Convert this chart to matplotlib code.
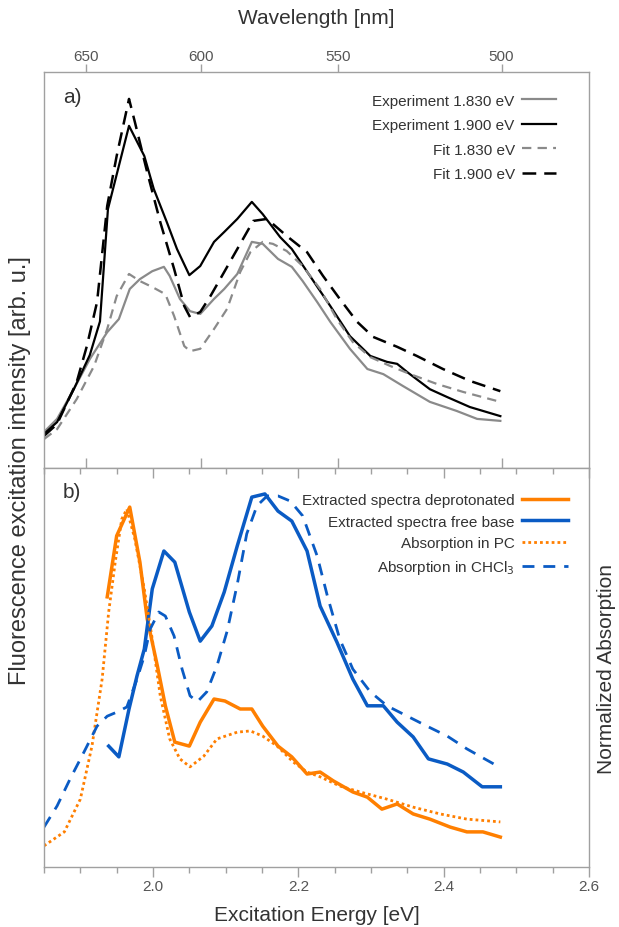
import numpy as np
import matplotlib
matplotlib.use("Agg")
import matplotlib.pyplot as plt
from matplotlib.ticker import FixedLocator, MultipleLocator, NullLocator, FormatStrFormatter

plt.rcParams["font.family"] = ["Liberation Sans", "DejaVu Sans"]

# ---- (a) excitation spectra: experiment vs. fit -------------------------
exp_183_e = [1.850, 1.868, 1.891, 1.913, 1.937, 1.953, 1.968, 1.982, 1.999, 2.015, 2.023,
             2.037, 2.051, 2.065, 2.084, 2.098, 2.116, 2.136, 2.151, 2.172, 2.191, 2.206,
             2.226, 2.244, 2.271, 2.295, 2.317, 2.344, 2.381, 2.418, 2.446, 2.478]
exp_183_i = [9.1, 12.4, 19.9, 27.5, 34.3, 37.6, 45.2, 47.7, 49.7, 50.8, 48.5,
             42.7, 39.6, 38.9, 42.7, 45.2, 49.0, 57.1, 56.6, 52.8, 50.8, 47.2,
             41.9, 36.9, 30.1, 25.0, 23.7, 20.7, 16.7, 14.4, 12.4, 11.9]

exp_190_e = [1.850, 1.868, 1.891, 1.913, 1.927, 1.938, 1.967, 1.988, 2.001, 2.019, 2.033,
             2.050, 2.065, 2.084, 2.098, 2.116, 2.136, 2.151, 2.175, 2.191, 2.216, 2.244,
             2.271, 2.299, 2.322, 2.336, 2.350, 2.381, 2.405, 2.436, 2.478]
exp_190_i = [8.6, 11.6, 19.9, 28.5, 37.0, 65.4, 86.4, 78.8, 70.5, 62.1, 55.3,
             48.7, 51.0, 57.1, 59.6, 62.9, 67.2, 64.1, 58.3, 55.3, 48.5, 40.9,
             33.3, 28.3, 26.8, 26.3, 24.2, 19.9, 17.9, 15.4, 13.1]

fit_183_e = [1.850, 1.868, 1.895, 1.919, 1.937, 1.950, 1.967, 1.982, 1.999, 2.017, 2.029,
             2.043, 2.051, 2.065, 2.084, 2.102, 2.120, 2.134, 2.151, 2.165, 2.184, 2.206,
             2.230, 2.253, 2.275, 2.299, 2.326, 2.354, 2.391, 2.427, 2.478]
fit_183_i = [7.3, 9.8, 17.4, 25.8, 35.1, 43.4, 49.0, 47.2, 45.7, 43.9, 38.4,
             30.8, 29.5, 30.1, 35.1, 40.2, 49.5, 54.5, 57.1, 56.6, 54.8, 51.0,
             45.2, 37.6, 31.8, 28.0, 25.8, 23.7, 21.2, 19.2, 16.7]

fit_190_e = [1.850, 1.868, 1.895, 1.909, 1.923, 1.937, 1.950, 1.967, 1.975, 1.992, 2.010,
             2.029, 2.043, 2.051, 2.065, 2.079, 2.098, 2.116, 2.138, 2.157, 2.184, 2.212,
             2.234, 2.257, 2.281, 2.303, 2.336, 2.363, 2.399, 2.436, 2.478]
fit_190_i = [8.1, 11.1, 21.7, 30.8, 41.9, 66.2, 78.8, 93.2, 87.4, 74.7, 62.1,
             50.3, 40.9, 38.1, 39.4, 43.4, 49.5, 55.3, 62.4, 62.9, 58.6, 54.5,
             48.5, 42.7, 36.9, 33.1, 30.6, 28.3, 25.0, 22.0, 19.4]

# ---- (b) extracted spectra and absorption -----------------------------
deprot_e = [1.937, 1.950, 1.968, 1.982, 1.992, 2.006, 2.017, 2.030, 2.050, 2.065, 2.084,
            2.099, 2.120, 2.136, 2.151, 2.172, 2.191, 2.212, 2.230, 2.248, 2.275, 2.295,
            2.315, 2.336, 2.358, 2.381, 2.409, 2.432, 2.454, 2.478]
deprot_i = [67.7, 83.0, 90.2, 76.4, 62.2, 50.4, 40.4, 31.3, 30.3, 36.3, 42.1,
            41.6, 39.6, 39.6, 35.3, 30.3, 27.6, 23.3, 23.8, 21.6, 18.8, 17.5,
            14.5, 15.8, 13.3, 12.0, 10.0, 8.8, 8.8, 7.5]

freebase_e = [1.939, 1.953, 1.967, 1.978, 1.988, 1.999, 2.015, 2.030, 2.050, 2.065, 2.081,
              2.098, 2.116, 2.136, 2.154, 2.172, 2.191, 2.212, 2.230, 2.253, 2.275, 2.295,
              2.317, 2.336, 2.358, 2.379, 2.405, 2.427, 2.453, 2.478]
freebase_i = [30.3, 27.6, 39.6, 47.9, 54.6, 69.7, 79.2, 76.4, 63.9, 56.6, 60.4,
              68.9, 80.5, 92.7, 93.5, 89.2, 86.7, 79.2, 65.4, 56.4, 47.1, 40.4,
              40.4, 36.3, 32.6, 27.1, 25.8, 23.8, 20.1, 20.1]

abs_pc_e = [1.850, 1.878, 1.900, 1.916, 1.930, 1.939, 1.948, 1.957, 1.964, 1.975, 1.988,
            1.999, 2.010, 2.023, 2.037, 2.051, 2.070, 2.088, 2.116, 2.134, 2.151, 2.171,
            2.193, 2.212, 2.230, 2.257, 2.285, 2.322, 2.358, 2.395, 2.432, 2.478]
abs_pc_i = [5.3, 8.8, 17.0, 30.3, 47.1, 63.9, 76.4, 87.2, 89.7, 82.2, 69.7,
            57.1, 42.9, 32.1, 27.1, 25.1, 27.8, 32.1, 33.8, 34.1, 32.8, 30.3,
            26.3, 23.8, 22.6, 20.3, 18.8, 17.0, 15.0, 13.3, 12.0, 11.3]

abs_chcl3_e = [1.850, 1.868, 1.886, 1.905, 1.923, 1.937, 1.950, 1.964, 1.978, 1.988, 1.996,
               2.008, 2.017, 2.029, 2.040, 2.051, 2.061, 2.074, 2.088, 2.102, 2.116, 2.129,
               2.143, 2.157, 2.172, 2.189, 2.206, 2.226, 2.240, 2.257, 2.275, 2.299, 2.322,
               2.350, 2.377, 2.405, 2.432, 2.474]
abs_chcl3_i = [10.0, 15.3, 22.1, 28.8, 35.3, 37.8, 38.8, 40.1, 47.1, 52.9, 59.6,
               63.9, 62.9, 57.9, 49.6, 42.9, 41.4, 43.9, 50.4, 59.1, 70.9, 83.5,
               90.5, 93.0, 93.0, 91.7, 88.0, 77.9, 67.9, 57.1, 49.6, 43.9, 40.4,
               37.8, 35.3, 32.8, 29.6, 25.3]

wl_ticks = [650, 600, 550, 500]
energy_ticks = [2.0, 2.2, 2.4, 2.6]

ORANGE = "#ff7f00"
BLUE = "#0a5bc4"
GREY = "#8a8a8a"
SPINE = "#a0a0a0"
TXT = "#333333"
TICKTXT = "#555555"


def ev_to_nm(x):
    x = np.asarray(x, dtype=float)
    with np.errstate(divide="ignore"):
        return 1239.84 / x


fig = plt.figure(figsize=(6.19, 9.28), dpi=100)
W, H = 619.0, 928.0
x0, x1 = 44, 589
ax1 = fig.add_axes([x0 / W, 1 - 469 / H, (x1 - x0) / W, 396 / H])
ax2 = fig.add_axes([x0 / W, 1 - 868 / H, (x1 - x0) / W, 399 / H])

for ax in (ax1, ax2):
    ax.set_xlim(1.85, 2.6)
    ax.set_ylim(0, 100)
    ax.set_yticks([])
    for sp in ax.spines.values():
        sp.set_color(SPINE)
        sp.set_linewidth(1.0)

# panel a
ax1.plot(exp_183_e, exp_183_i, color=GREY, lw=1.6, label="Experiment 1.830 eV")
ax1.plot(exp_190_e, exp_190_i, color="black", lw=1.6, label="Experiment 1.900 eV")
ax1.plot(fit_183_e, fit_183_i, color=GREY, lw=1.6, ls=(0, (4.2, 2.8)), label="Fit 1.830 eV")
ax1.plot(fit_190_e, fit_190_i, color="black", lw=1.8, ls=(0, (5.5, 3.2)), label="Fit 1.900 eV")

# wavelength ticks: outward on top with labels, inward on the shared edge
ax1.xaxis.set_major_locator(FixedLocator(ev_to_nm(wl_ticks)))
ax1.xaxis.set_minor_locator(NullLocator())
ax1.tick_params(axis="x", direction="in", length=7, width=1, color=SPINE,
                bottom=True, top=False, labelbottom=False)
top = ax1.secondary_xaxis("top", functions=(ev_to_nm, ev_to_nm))
top.set_xticks(wl_ticks)
top.xaxis.set_minor_locator(NullLocator())
top.tick_params(direction="out", length=6, width=1, color=SPINE,
                labelsize=11, labelcolor=TICKTXT, pad=0.5)
top.spines["top"].set_visible(False)
top.set_xlabel("Wavelength [nm]", fontsize=15, color=TXT, labelpad=19)

ax1.legend(loc="upper right", bbox_to_anchor=(0.9394, 0.945), frameon=False,
           markerfirst=False, fontsize=11, labelcolor=TXT, handlelength=2.2,
           handletextpad=0.5, labelspacing=0.68, borderpad=0, borderaxespad=0)
ax1.text(0.035, 0.937, "a)", transform=ax1.transAxes, fontsize=15, color=TXT,
         ha="left", va="center")

# panel b
ax2.plot(deprot_e, deprot_i, color=ORANGE, lw=2.5, label="Extracted spectra deprotonated")
ax2.plot(freebase_e, freebase_i, color=BLUE, lw=2.5, label="Extracted spectra free base")
ax2.plot(abs_pc_e, abs_pc_i, color=ORANGE, lw=2.0, ls=(0, (1, 1.1)), label="Absorption in PC")
ax2.plot(abs_chcl3_e, abs_chcl3_i, color=BLUE, lw=2.0, ls=(0, (4.3, 3.2)),
         label="Absorption in CHCl$_3$")

ax2.xaxis.set_major_locator(FixedLocator(energy_ticks))
ax2.xaxis.set_major_formatter(FormatStrFormatter("%.1f"))
ax2.xaxis.set_minor_locator(MultipleLocator(0.05))
ax2.tick_params(axis="x", which="major", direction="out", length=7, width=1, color=SPINE,
                labelsize=11, labelcolor=TICKTXT, pad=1.5)
ax2.tick_params(axis="x", which="minor", direction="out", length=4.5, width=1, color=SPINE)
inner = ax2.secondary_xaxis("top")
inner.xaxis.set_major_locator(FixedLocator(energy_ticks))
inner.xaxis.set_minor_locator(MultipleLocator(0.05))
inner.tick_params(which="major", direction="in", length=7, width=1, color=SPINE,
                  labeltop=False)
inner.tick_params(which="minor", direction="in", length=4.5, width=1, color=SPINE)
inner.spines["top"].set_visible(False)
ax2.set_xlabel("Excitation Energy [eV]", fontsize=15, color=TXT, labelpad=9)

ax2.legend(loc="upper right", bbox_to_anchor=(0.9615, 0.937), frameon=False,
           markerfirst=False, fontsize=11, labelcolor=TXT, handlelength=3.0,
           handletextpad=0.5, labelspacing=0.5, borderpad=0, borderaxespad=0)
ax2.text(0.035, 0.94, "b)", transform=ax2.transAxes, fontsize=15, color=TXT,
         ha="left", va="center")

fig.text(20 / W, 1 - 471 / H, "Fluorescence excitation intensity [arb. u.]",
         rotation=90, ha="center", va="center", fontsize=17, color=TXT)
fig.text(607 / W, 1 - 669 / H, "Normalized Absorption",
         rotation=90, ha="center", va="center", fontsize=15, color=TXT)

fig.savefig("out.png", dpi=100)
